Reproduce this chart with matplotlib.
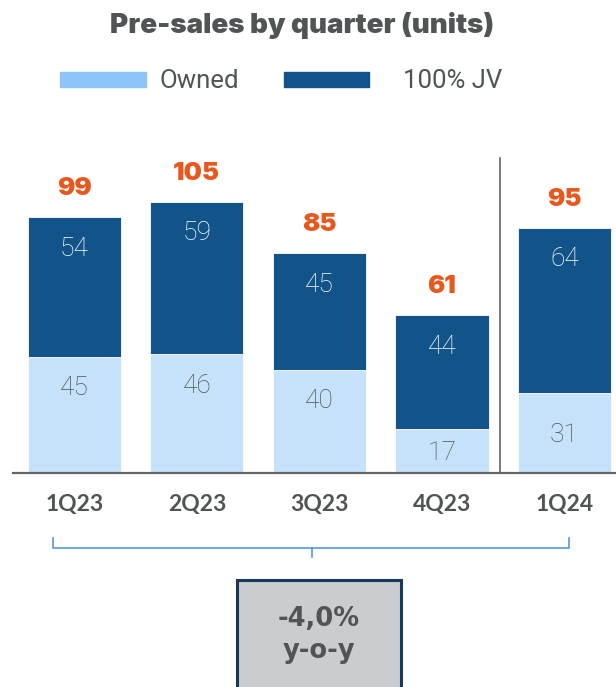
import matplotlib.pyplot as plt
from matplotlib.patches import Rectangle
from matplotlib.lines import Line2D

quarters = ['1Q23', '2Q23', '3Q23', '4Q23', '1Q24']
owned = [45, 46, 40, 17, 31]
jv = [54, 59, 45, 44, 64]
totals = [o + j for o, j in zip(owned, jv)]
yoy_value = '-4,0%'
yoy_text = 'y-o-y'

c_owned = '#c6e2fb'
c_owned_leg = '#8dc4fb'
c_jv = '#12548a'
c_total = '#e8571c'
c_text = '#505455'

W, H = 616, 687
fig = plt.figure(figsize=(W / 100, H / 100), dpi=100)

# axes placed in pixel terms: x 13..616, baseline at y=473, top at y=150
ax = fig.add_axes([13 / W, (H - 473) / H, (W - 13) / W, (473 - 150) / H])
x = list(range(len(quarters)))
ax.bar(x, owned, width=0.76, color=c_owned, edgecolor='white', linewidth=0.6)
ax.bar(x, jv, bottom=owned, width=0.76, color=c_jv, edgecolor='white', linewidth=0.6)
ax.set_xlim(-0.50, 4.42)
ax.set_ylim(0, 125)

lbl = dict(ha='center', va='baseline', fontsize=19, family='Roboto', fontweight='light')
for i in x:
    # segment labels sit near the top of the segment, small ones are centred
    if owned[i] < 35:
        yo = owned[i] / 2 - 3.6
    else:
        yo = owned[i] - 15
    ax.text(i, yo, str(owned[i]), color=c_text, **lbl)
    ax.text(i, totals[i] - 15, str(jv[i]), color='white', **lbl)
    ax.text(i, totals[i] + 8.5, str(totals[i]), ha='center', va='baseline', fontsize=18.5,
            family='Inter', fontweight='black', color=c_total)

ax.axvline(3.47, ymin=0, ymax=(473 - 158) / (473 - 150), color='#555555', lw=1.1)
ax.set_xticks(x)
ax.set_xticklabels(quarters, fontsize=16.5, family='Lato', fontweight='bold', color=c_text)
ax.tick_params(axis='x', length=0, pad=15)
ax.set_yticks([])
for s in ['top', 'right', 'left']:
    ax.spines[s].set_visible(False)
ax.spines['bottom'].set_color('#666666')
ax.spines['bottom'].set_linewidth(1.6)

fig.text(302 / W, 1 - 33 / H, 'Pre-sales by quarter (units)', ha='center', va='baseline',
         fontsize=20, family='Inter', fontweight='black', color=c_text)

# legend
fig.patches.append(Rectangle((60 / W, 1 - 87 / H), 86 / W, 15 / H, transform=fig.transFigure,
                             color=c_owned_leg))
fig.text(160 / W, 1 - 88 / H, 'Owned', ha='left', va='baseline', fontsize=18.5,
         family='Roboto', color=c_text)
fig.patches.append(Rectangle((284 / W, 1 - 87 / H), 85 / W, 15 / H, transform=fig.transFigure,
                             color=c_jv))
fig.text(403 / W, 1 - 88 / H, '100% JV', ha='left', va='baseline', fontsize=18.5,
         family='Roboto', color=c_text)

# bracket below the quarters
bc = '#4a8fd6'
def fl(xs, ys):
    fig.lines.append(Line2D([v / W for v in xs], [1 - v / H for v in ys],
                            transform=fig.transFigure, color=bc, lw=1.1))
fl([53, 53, 569, 569], [538, 548, 548, 538])
fl([312, 312], [548, 557])

# y-o-y box
fig.patches.append(Rectangle((237 / W, 1 - 700 / H), 164 / W, 120 / H, transform=fig.transFigure,
                             facecolor='#c9cdd0', edgecolor='#17385a', lw=2.2))
fig.text(319 / W, 1 - 626 / H, yoy_value, ha='center', va='baseline', fontsize=18.5,
         family='DejaVu Sans', fontweight='bold', color=c_text)
fig.text(319 / W, 1 - 658 / H, yoy_text, ha='center', va='baseline', fontsize=18.5,
         family='DejaVu Sans', fontweight='bold', color=c_text)

fig.savefig('out.png', dpi=100)
